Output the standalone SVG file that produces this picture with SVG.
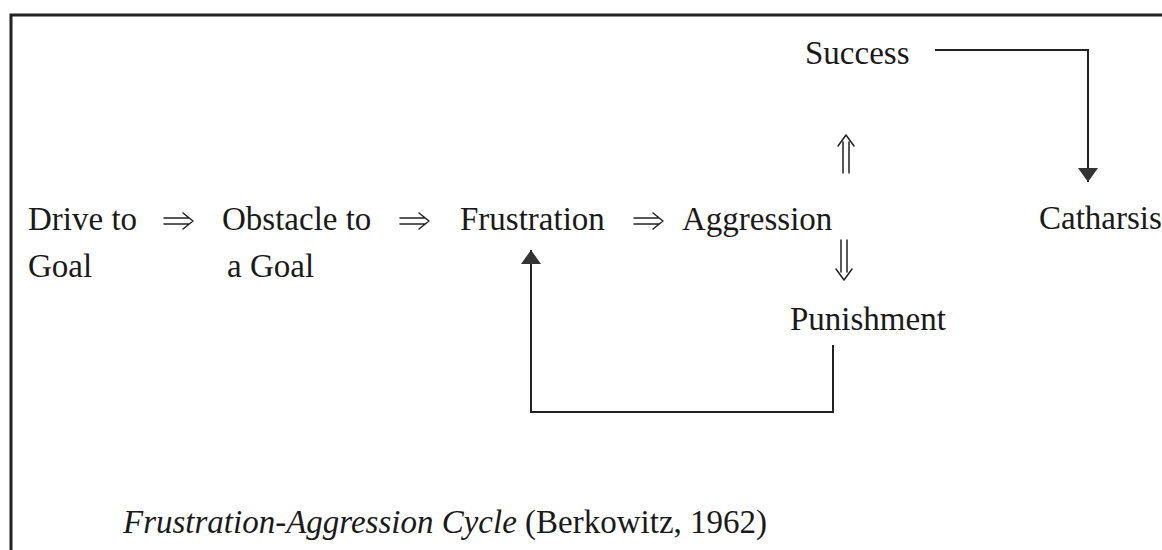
<svg xmlns="http://www.w3.org/2000/svg" width="1162" height="550" viewBox="0 0 1162 550">
<style>
.t{font-family:"Liberation Serif","Times New Roman",serif;font-size:33px;fill:#1a1a1a}
.i{font-style:italic}
.ln{fill:none;stroke:#222;stroke-width:2}
.da{fill:none;stroke:#222;stroke-width:1.5;stroke-linecap:round;stroke-linejoin:round}
.fr{fill:none;stroke:#222;stroke-width:3}
</style>
<defs>
<marker id="ah" viewBox="0 0 14 20" markerWidth="14" markerHeight="20" refX="14" refY="10" orient="auto" markerUnits="userSpaceOnUse">
<path d="M0,0 L14,10 L0,20 Z" fill="#333"/>
</marker>
</defs>
<rect width="1162" height="550" fill="#fff"/>
<path class="fr" d="M11,550 L11,15 L1162,15"/>
<g id="drive"><text class="t" x="28" y="230">Drive to</text><text class="t" x="28" y="277">Goal</text></g>
<g id="obstacle"><text class="t" x="222" y="230">Obstacle to</text><text class="t" x="227" y="277">a Goal</text></g>
<g id="frustration"><text class="t" x="460" y="230">Frustration</text></g>
<g id="aggression"><text class="t" x="682" y="230">Aggression</text></g>
<g id="success"><text class="t" x="805" y="64">Success</text></g>
<g id="punishment"><text class="t" x="790" y="330">Punishment</text></g>
<g id="catharsis"><text class="t" x="1039" y="229">Catharsis</text></g>
<g id="caption"><text class="t" x="123" y="533"><tspan class="i">Frustration-Aggression Cycle</tspan> (Berkowitz, 1962)</text></g>
<g id="connectors">
<path class="da" d="M164,218 H189 M164,224 H189 M183,213 L193,221 L183,229"/>
<path class="da" d="M400,218 H425 M400,224 H425 M419,213 L429,221 L419,229"/>
<path class="da" d="M634,218 H659 M634,224 H659 M653,213 L663,221 L653,229"/>
<path class="da" d="M843,173 V142 M849,173 V142 M838,146 L846,135 L854,146"/>
<path class="da" d="M841,240 V272 M847,240 V272 M836,269 L844,280 L852,269"/>
<path class="ln" d="M935,50 H1088 V182" marker-end="url(#ah)"/>
<path class="ln" d="M833,345 V412 H531 V250" marker-end="url(#ah)"/>
</g>
</svg>
